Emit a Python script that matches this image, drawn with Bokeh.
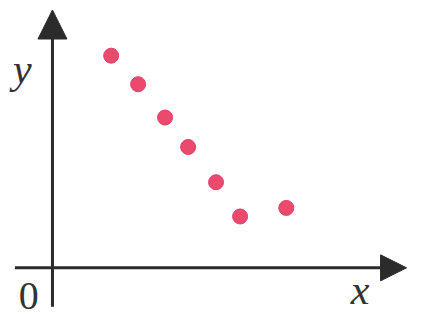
from bokeh.plotting import figure
from bokeh.models import Range1d, Arrow, NormalHead, ColumnDataSource
from bokeh.core.properties import value
from bokeh.embed import file_html
from bokeh.resources import INLINE

# data (arbitrary units, origin at axes crossing)
xs = [6.1, 8.9, 11.7, 14.1, 17.0, 19.5, 24.3]
ys = [22.3, 19.3, 15.8, 12.7, 9.0, 5.4, 6.3]

p = figure(width=408, height=313, output_backend="svg", toolbar_location=None,
           x_range=Range1d(-5.4, 37.0), y_range=Range1d(-4.8, 28.1),
           min_border=0)
p.axis.visible = False
p.grid.visible = False
p.outline_line_color = None
p.background_fill_color = "white"
p.border_fill_color = "white"

axis_col = "#2b2b2b"
# x axis
p.add_layout(Arrow(end=NormalHead(size=26, fill_color=axis_col, line_color=axis_col),
                   x_start=-3.9, y_start=0, x_end=36.8, y_end=0,
                   line_width=3, line_color=axis_col))
# y axis
p.add_layout(Arrow(end=NormalHead(size=29, fill_color=axis_col, line_color=axis_col),
                   x_start=0, y_start=-4.1, x_end=0, y_end=27.1,
                   line_width=3, line_color=axis_col))

src = ColumnDataSource(dict(x=xs, y=ys))
p.scatter("x", "y", source=src, size=15, fill_color="#ec4a6c", line_color="#e0406a",
          line_width=1)

p.text(x=[-4.1], y=[20.9], text=["y"], text_font=value("Liberation Serif"),
       text_font_style="italic", text_font_size="42px", text_color="#333333",
       text_baseline="alphabetic", text_align="left")
p.text(x=[31.0], y=[-4.7], text=["x"], text_font=value("Liberation Serif"),
       text_font_style="italic", text_font_size="42px", text_color="#333333",
       text_baseline="bottom", text_align="left")
p.text(x=[-3.5], y=[-4.3], text=["0"], text_font=value("Liberation Serif"),
       text_font_size="40px", text_color="#333333",
       text_baseline="bottom", text_align="left")

open("out.html", "w").write(file_html(p, INLINE))
